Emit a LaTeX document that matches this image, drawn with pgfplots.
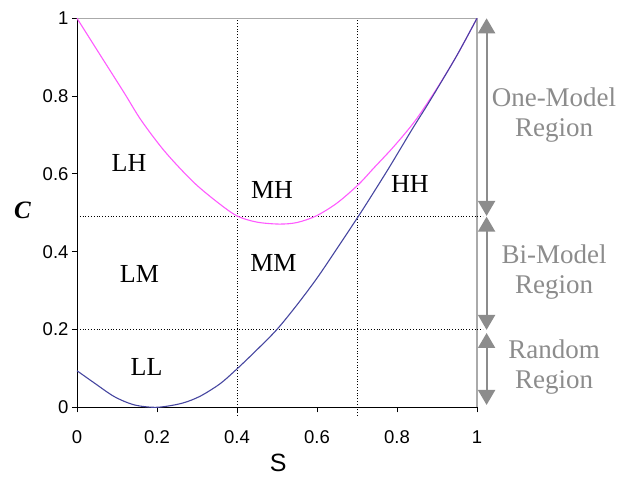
\documentclass[border=0pt]{standalone}
\usepackage{fontspec}
\setmainfont{Liberation Serif}
\setsansfont{Liberation Sans}
\usepackage{pgfplots}
\pgfplotsset{compat=1.18}
\usetikzlibrary{arrows.meta}
\definecolor{pinkc}{RGB}{255,90,255}
\definecolor{bluec}{RGB}{70,70,160}
\definecolor{grayc}{RGB}{140,140,140}
\definecolor{axgray}{RGB}{170,170,170}
\begin{document}
\begin{tikzpicture}
\useasboundingbox (-77pt,-70.7pt) rectangle (542pt,407.3pt);
\begin{axis}[
  at={(0pt,0pt)}, anchor=south west,
  scale only axis, width=400pt, height=389pt,
  xmin=0, xmax=1, ymin=0, ymax=1,
  axis x line*=bottom, axis y line*=left,
  axis line style={black, line width=0.8pt, -},
  xtick={0,0.2,0.4,0.6,0.8,1}, xticklabels={0,0.2,0.4,0.6,0.8,1},
  ytick={0,0.2,0.4,0.6,0.8,1}, yticklabels={0,0.2,0.4,0.6,0.8,1},
  tick align=outside, major tick length=5pt,
  tick style={black, line width=0.8pt},
  ticklabel style={font=\sffamily\fontsize{18.5}{20}\selectfont},
  xticklabel style={yshift=-15pt},
  xlabel={S},
  xlabel style={font=\sffamily\fontsize{25}{27}\selectfont, inner sep=0pt, at={(axis cs:0.503,0)}, anchor=base, yshift=-64.5pt},
  ylabel={\textbf{\textit{C}}},
  ylabel style={font=\fontsize{25}{28}\selectfont, inner sep=0pt, rotate=-90, at={(axis cs:0,0.507)}, anchor=center, xshift=-54.5pt},
  clip=false,
]
% gray top/right frame
\addplot[axgray, line width=1.2pt] coordinates {(0,1) (1,1) (1,0)};
% dotted dividers
\addplot[black, dotted, line width=0.8pt] coordinates {(0.4,-0.022) (0.4,1)};
\addplot[black, dotted, line width=0.8pt] coordinates {(0.7,-0.022) (0.7,1)};
\addplot[black, dotted, line width=0.8pt] coordinates {(0,0.492) (1.015,0.492)};
\addplot[black, dotted, line width=0.8pt] coordinates {(0,0.199) (1.015,0.199)};
% upper curve
\addplot[pinkc, line width=1.1pt, smooth, tension=0.5] coordinates {
(0,1) (0.059,0.904) (0.117,0.81) (0.161,0.737) (0.22,0.657) (0.29,0.58)
(0.35,0.528) (0.4,0.492) (0.45,0.476) (0.506,0.471) (0.55,0.475) (0.598,0.492)
(0.65,0.525) (0.704,0.573) (0.741,0.614) (0.783,0.66) (0.816,0.699) (0.85,0.743)
(0.9,0.82) (0.95,0.905) (1,1)};
% lower curve
\addplot[bluec, line width=1.1pt, smooth, tension=0.5] coordinates {
(0,0.094) (0.044,0.062) (0.094,0.027) (0.144,0.006) (0.2,0) (0.261,0.01)
(0.307,0.028) (0.357,0.06) (0.395,0.094) (0.441,0.139) (0.498,0.198) (0.549,0.262)
(0.6,0.332) (0.648,0.405) (0.706,0.495) (0.745,0.558) (0.779,0.614) (0.81,0.667)
(0.841,0.72) (0.874,0.774) (0.9,0.818) (0.95,0.905) (1,1)};
% region labels
\begin{scope}[every node/.style={font=\fontsize{26}{28}\selectfont, inner sep=0pt, anchor=center}]
\node at (axis cs:0.13,0.628) {LH};
\node at (axis cs:0.4875,0.558) {MH};
\node at (axis cs:0.8325,0.574) {HH};
\node at (axis cs:0.156,0.343) {LM};
\node at (axis cs:0.491,0.372) {MM};
\node at (axis cs:0.174,0.104) {LL};
\end{scope}
% right-side arrows
\draw[grayc, line width=2pt, {Triangle[width=17pt,length=15pt]}-{Triangle[width=17pt,length=15pt]}] (axis cs:1.024,1) -- (axis cs:1.024,0.492);
\draw[grayc, line width=2pt, {Triangle[width=17pt,length=15pt]}-{Triangle[width=17pt,length=15pt]}] (axis cs:1.024,0.490) -- (axis cs:1.024,0.199);
\draw[grayc, line width=2pt, {Triangle[width=17pt,length=15pt]}-{Triangle[width=17pt,length=15pt]}] (axis cs:1.024,0.191) -- (axis cs:1.024,0.006);
\begin{scope}[every node/.style={font=\fontsize{27}{30}\selectfont, text=grayc, inner sep=0pt, anchor=base}]
\node at (axis cs:1.1925,0.773) {One-Model};
\node at (axis cs:1.1925,0.696) {Region};
\node at (axis cs:1.1925,0.370) {Bi-Model};
\node at (axis cs:1.1925,0.293) {Region};
\node at (axis cs:1.1925,0.126) {Random};
\node at (axis cs:1.1925,0.049) {Region};
\end{scope}
\end{axis}
\end{tikzpicture}
\end{document}
